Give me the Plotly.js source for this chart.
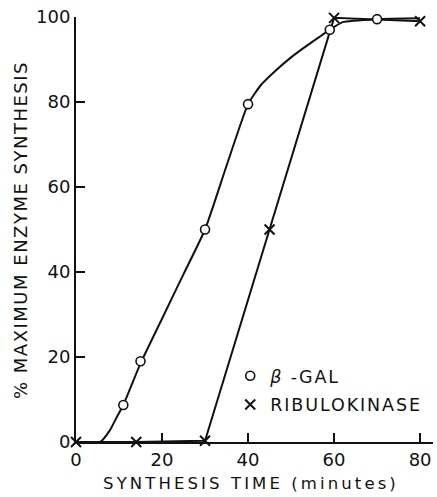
<!DOCTYPE html>
<html>
<head>
<meta charset="utf-8">
<script src="https://cdn.plot.ly/plotly-3.0.1.min.js"></script>
<style>
html, body { margin: 0; padding: 0; background: #fff; }
#chart { width: 437px; height: 497px; }
.xtitle { letter-spacing: 3.1px; }
.ytitle { letter-spacing: 1.5px; }
.legendtext { letter-spacing: 1.9px; }
</style>
</head>
<body>
<div id="chart"></div>
<script>
// β-galactosidase measured points
const galTime = [11, 15, 30, 40, 59, 70];
const galPct = [8.7, 19, 50, 79.5, 97, 99.5];
// hand-drawn smooth curve through the β-gal points
const galCurveTime = [0, 5.6, 7.9, 9.5, 11, 15, 20, 25, 30, 35, 40, 43, 46, 50, 54, 57, 59, 62, 70, 80];
const galCurvePct = [0, 0, 2.8, 5.9, 8.7, 18.5, 29, 39.5, 50, 65, 79.5, 84, 87, 90.5, 93.5, 95.6, 97, 98.8, 99.5, 99.7];
// ribulokinase measured points
const ribTime = [0, 14, 30, 45, 60, 80];
const ribPct = [0, 0, 0.3, 50, 99.8, 99];

const xTicks = [0, 20, 40, 60, 80];
const yTicks = [0, 20, 40, 60, 80, 100];

const black = '#111';

const traces = [
  {
    x: galCurveTime, y: galCurvePct, type: 'scatter', mode: 'lines',
    line: {color: black, width: 2, shape: 'spline', smoothing: 0.5},
    showlegend: false, hoverinfo: 'skip', cliponaxis: false
  },
  {
    x: ribTime, y: ribPct, type: 'scatter', mode: 'lines',
    line: {color: black, width: 2},
    showlegend: false, hoverinfo: 'skip', cliponaxis: false
  },
  {
    x: galTime, y: galPct, type: 'scatter', mode: 'markers',
    name: '<i>β</i> -GAL',
    marker: {symbol: 'circle', size: 9, color: '#fff', line: {color: black, width: 1.6}},
    cliponaxis: false, legendgroup: 'a'
  },
  {
    x: ribTime, y: ribPct, type: 'scatter', mode: 'markers',
    name: 'RIBULOKINASE',
    marker: {symbol: 'x-thin-open', size: 10, color: black, line: {color: black, width: 2}},
    cliponaxis: false, legendgroup: 'b'
  }
];

const layout = {
  width: 437, height: 497,
  margin: {l: 76, r: 4, t: 17, b: 55},
  paper_bgcolor: '#fff', plot_bgcolor: '#fff',
  font: {family: 'DejaVu Sans, sans-serif', color: black, size: 17},
  showlegend: true,
  legend: {
    x: 0.432, y: 0.198, xanchor: 'left', yanchor: 'top',
    bgcolor: 'rgba(0,0,0,0)', borderwidth: 0,
    font: {size: 17.5, color: black}, tracegroupgap: 3,
    itemwidth: 30
  },
  xaxis: {
    range: [0, 83], tickvals: xTicks, ticktext: xTicks.map(String),
    ticks: 'inside', ticklen: 9, tickwidth: 1.5, tickcolor: black,
    showline: true, linecolor: black, linewidth: 2,
    showgrid: false, zeroline: false,
    tickfont: {size: 18},
    title: {text: 'SYNTHESIS TIME (minutes)', font: {size: 16.5}, standoff: 10}
  },
  yaxis: {
    range: [0, 100], tickvals: yTicks, ticktext: yTicks.map(String),
    ticks: 'inside', ticklen: 9, tickwidth: 1.5, tickcolor: black,
    showline: true, linecolor: black, linewidth: 2,
    showgrid: false, zeroline: false,
    tickfont: {size: 18},
    title: {text: '% MAXIMUM ENZYME SYNTHESIS', font: {size: 18}, standoff: 6}
  }
};

function recenter(sel, cx, cy) {
  const el = document.querySelector(sel);
  if (!el) return;
  el.style.translate = '';
  const r = el.getBoundingClientRect();
  const dx = cx - (r.left + r.width / 2);
  const dy = cy - (r.top + r.height / 2);
  el.style.translate = dx.toFixed(1) + 'px ' + dy.toFixed(1) + 'px';
}
function fixTitles() {
  recenter('.xtitle', 251, 483);
  recenter('.ytitle', 20, 230);
}

const gd = document.getElementById('chart');
Plotly.newPlot(gd, traces, layout, {staticPlot: true, displayModeBar: false}).then(function () {
  fixTitles();
  gd.on('plotly_afterplot', fixTitles);
  setTimeout(fixTitles, 0);
});
</script>
</body>
</html>
